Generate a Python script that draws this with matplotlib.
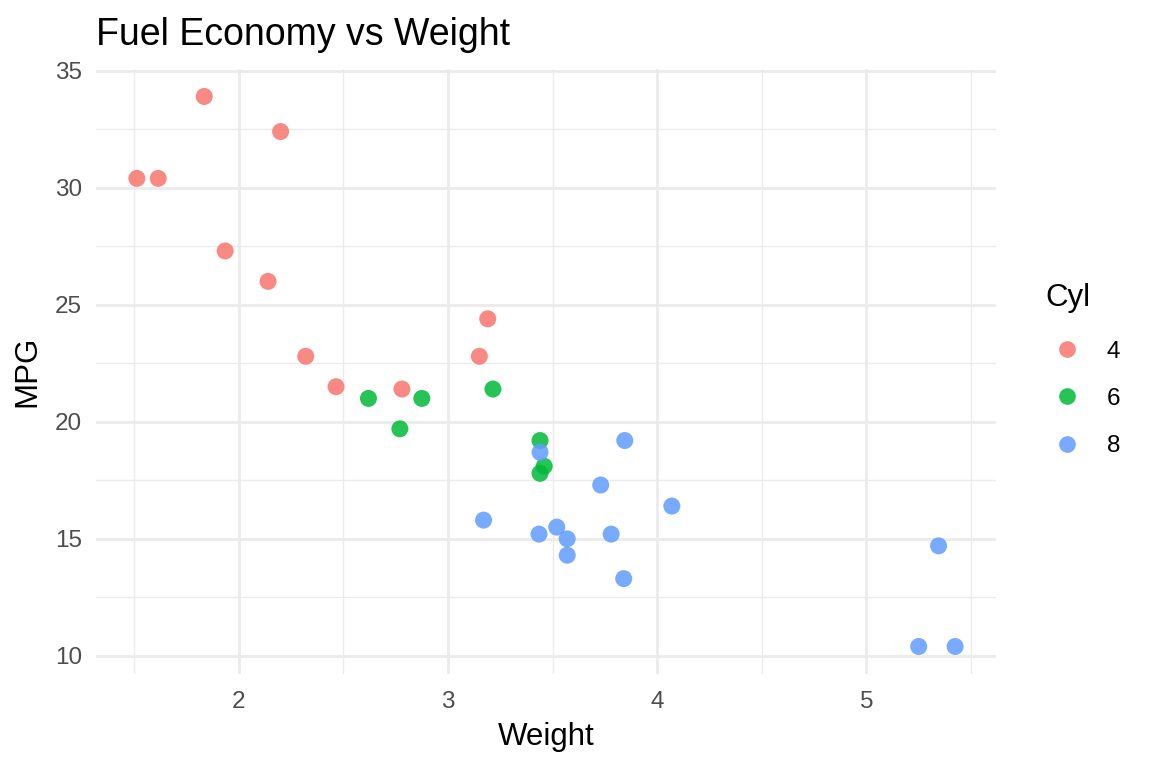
import numpy as np
import matplotlib.pyplot as plt
from matplotlib.lines import Line2D
from matplotlib.ticker import MultipleLocator

plt.rcParams['font.family'] = ['Liberation Sans', 'DejaVu Sans']

# mtcars: weight (1000 lbs), mpg, cylinders
wt = [2.620, 2.875, 2.320, 3.215, 3.440, 3.460, 3.570, 3.190, 3.150, 3.440,
      3.440, 4.070, 3.730, 3.780, 5.250, 5.424, 5.345, 2.200, 1.615, 1.835,
      2.465, 3.520, 3.435, 3.840, 3.845, 1.935, 2.140, 1.513, 3.170, 2.770,
      3.570, 2.780]
mpg = [21.0, 21.0, 22.8, 21.4, 18.7, 18.1, 14.3, 24.4, 22.8, 19.2,
       17.8, 16.4, 17.3, 15.2, 10.4, 10.4, 14.7, 32.4, 30.4, 33.9,
       21.5, 15.5, 15.2, 13.3, 19.2, 27.3, 26.0, 30.4, 15.8, 19.7,
       15.0, 21.4]
cyl = [6, 6, 4, 6, 8, 6, 8, 4, 4, 6,
       6, 8, 8, 8, 8, 8, 8, 4, 4, 4,
       4, 8, 8, 8, 8, 4, 4, 4, 8, 6,
       8, 4]
groups = [4, 6, 8]
colors = {4: '#F8766D', 6: '#00BA38', 8: '#619CFF'}

wt = np.array(wt)
mpg = np.array(mpg)
cyl = np.array(cyl)

fig = plt.figure(figsize=(11.52, 7.68), dpi=100)
ax = fig.add_axes([0.0833, 0.1224, 0.7813, 0.7878])

for g in groups:
    m = cyl == g
    ax.scatter(wt[m], mpg[m], s=150, color=colors[g], alpha=0.85,
               edgecolors='none', zorder=3)

# ggplot-style 5% expansion
xr = wt.max() - wt.min()
yr = mpg.max() - mpg.min()
ax.set_xlim(wt.min() - 0.05 * xr, wt.max() + 0.05 * xr)
ax.set_ylim(mpg.min() - 0.05 * yr, mpg.max() + 0.05 * yr)

ax.xaxis.set_major_locator(MultipleLocator(1))
ax.xaxis.set_minor_locator(MultipleLocator(0.5))
ax.yaxis.set_major_locator(MultipleLocator(5))
ax.yaxis.set_minor_locator(MultipleLocator(2.5))

ax.grid(True, which='major', color='#EBEBEB', linewidth=1.95)
ax.grid(True, which='minor', color='#EBEBEB', linewidth=1.0)
ax.set_axisbelow(True)
for sp in ax.spines.values():
    sp.set_visible(False)
ax.tick_params(which='both', length=0, labelsize=17.5, labelcolor='#4D4D4D')
ax.tick_params(axis='y', pad=10)
ax.tick_params(axis='x', pad=12)

ax.set_xlabel('Weight', fontsize=22.5, labelpad=7)
ax.set_ylabel('MPG', fontsize=22.5, labelpad=9)
ax.set_title('Fuel Economy vs Weight', fontsize=27, loc='left', pad=17)

# legend: title as separate text, keys below
fig.text(0.9071, 0.6016, 'Cyl', fontsize=22.5, va='baseline', ha='left')
handles = [Line2D([], [], marker='o', linestyle='none', markersize=12,
                  markerfacecolor=colors[g], markeredgecolor='none',
                  alpha=0.85, label=str(g)) for g in groups]
leg = fig.legend(handles=handles, loc='center left',
                 bbox_to_anchor=(0.8988, 0.4805), frameon=False,
                 fontsize=17.5, labelspacing=1.03,
                 handlelength=1.8, handletextpad=0.74, borderaxespad=0)

fig.savefig('out.png', dpi=100)
